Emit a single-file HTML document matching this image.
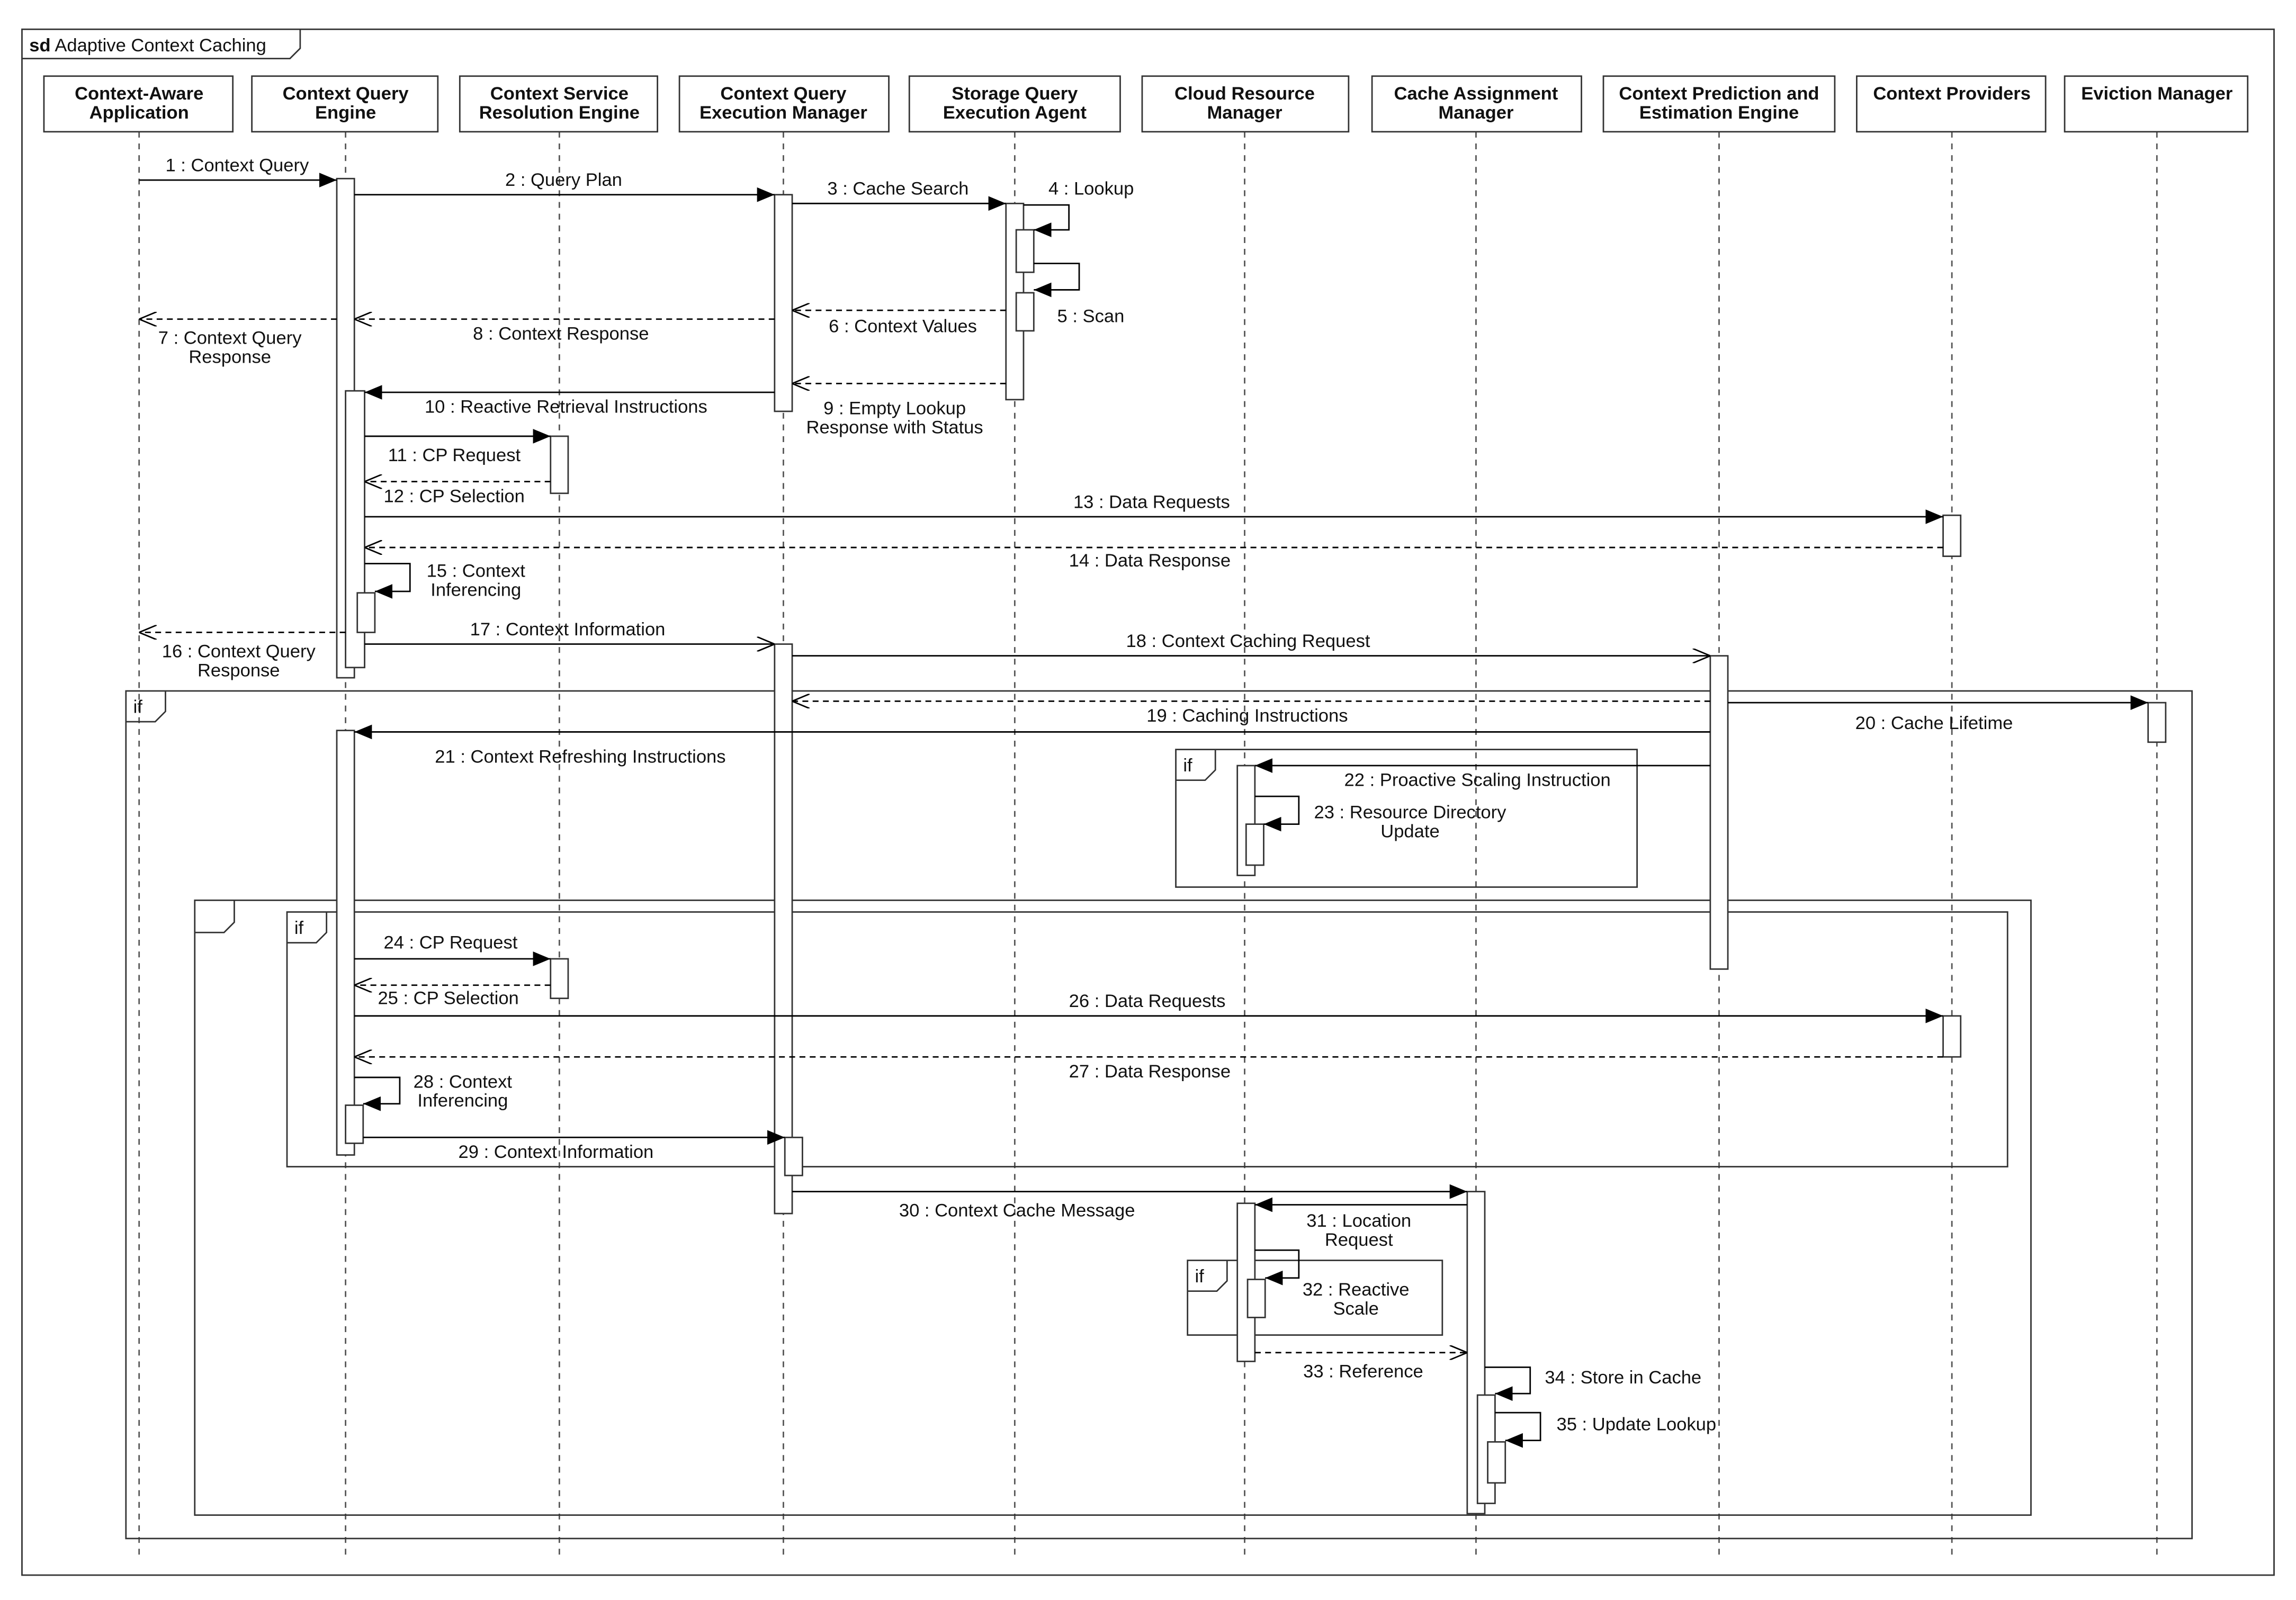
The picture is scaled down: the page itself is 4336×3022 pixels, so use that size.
<!DOCTYPE html>
<html><head><meta charset="utf-8"><style>
html,body{margin:0;padding:0;background:#fff}
svg{display:block}
text{font-family:"Liberation Sans",Arial,sans-serif;font-size:12.5px;fill:#111}
.h{font-weight:bold;text-anchor:middle}
.m{text-anchor:middle}
</style></head><body>
<svg width="4336" height="3022" viewBox="0 0 1568 1093" preserveAspectRatio="none" xmlns="http://www.w3.org/2000/svg">
<defs>
<marker id="f" markerUnits="userSpaceOnUse" markerWidth="12" markerHeight="10" refX="12" refY="5" orient="auto"><path d="M0,0 L12,5 L0,10 z" fill="#000"/></marker>
<marker id="o" markerUnits="userSpaceOnUse" markerWidth="12" markerHeight="10" refX="12" refY="5" orient="auto"><path d="M0,0 L12,5 L0,10" fill="none" stroke="#000" stroke-width="1"/></marker>
</defs>
<rect width="1568" height="1093" fill="#fff"/>
<g fill="none" stroke="#333" stroke-width="1">
<rect x="15" y="20" width="1538" height="1056"/>
<path d="M15,40 H198 L205,33 V20"/>
</g>
<text x="20" y="35"><tspan font-weight="bold">sd</tspan> Adaptive Context Caching</text>

<!-- lifelines -->
<g stroke="#555" stroke-dasharray="4,4" stroke-width="1">
<line x1="95" y1="90" x2="95" y2="1066"/>
<line x1="236" y1="90" x2="236" y2="1066"/>
<line x1="382" y1="90" x2="382" y2="1066"/>
<line x1="535" y1="90" x2="535" y2="1066"/>
<line x1="693" y1="90" x2="693" y2="1066"/>
<line x1="850" y1="90" x2="850" y2="1066"/>
<line x1="1008" y1="90" x2="1008" y2="1066"/>
<line x1="1174" y1="90" x2="1174" y2="1066"/>
<line x1="1333" y1="90" x2="1333" y2="1066"/>
<line x1="1473" y1="90" x2="1473" y2="1066"/>
</g>

<!-- headers -->
<g fill="#fff" stroke="#333" stroke-width="1">
<rect x="30" y="52" width="129" height="38"/>
<rect x="172" y="52" width="127" height="38"/>
<rect x="314" y="52" width="135" height="38"/>
<rect x="464" y="52" width="143" height="38"/>
<rect x="621" y="52" width="144" height="38"/>
<rect x="780" y="52" width="141" height="38"/>
<rect x="937" y="52" width="143" height="38"/>
<rect x="1095" y="52" width="158" height="38"/>
<rect x="1268" y="52" width="129" height="38"/>
<rect x="1410" y="52" width="125" height="38"/>
</g>
<text class="h" x="95" y="68">Context-Aware</text><text class="h" x="95" y="81">Application</text>
<text class="h" x="236" y="68">Context Query</text><text class="h" x="236" y="81">Engine</text>
<text class="h" x="382" y="68">Context Service</text><text class="h" x="382" y="81">Resolution Engine</text>
<text class="h" x="535" y="68">Context Query</text><text class="h" x="535" y="81">Execution Manager</text>
<text class="h" x="693" y="68">Storage Query</text><text class="h" x="693" y="81">Execution Agent</text>
<text class="h" x="850" y="68">Cloud Resource</text><text class="h" x="850" y="81">Manager</text>
<text class="h" x="1008" y="68">Cache Assignment</text><text class="h" x="1008" y="81">Manager</text>
<text class="h" x="1174" y="68">Context Prediction and</text><text class="h" x="1174" y="81">Estimation Engine</text>
<text class="h" x="1333" y="68">Context Providers</text>
<text class="h" x="1473" y="68">Eviction Manager</text>

<!-- frames -->
<g fill="none" stroke="#333" stroke-width="1">
<rect x="86" y="472" width="1411" height="579"/><path d="M86,493 H106 L113,486 V472"/>
<rect x="133" y="615" width="1254" height="420"/><path d="M133,637 H153 L160,630 V615"/>
<rect x="196" y="623" width="1175" height="174"/><path d="M196,644 H216 L223,637 V623"/>
<rect x="803" y="512" width="315" height="94"/><path d="M803,533 H823 L830,526 V512"/>
<rect x="811" y="861" width="174" height="51"/><path d="M811,882 H831 L838,875 V861"/>
</g>
<text x="91" y="487">if</text><text x="201" y="638">if</text><text x="808" y="527">if</text><text x="816" y="876">if</text>

<!-- activations -->
<g fill="#fff" stroke="#333" stroke-width="1">
<rect x="230" y="122" width="12" height="341"/>
<rect x="236" y="267" width="13" height="189"/>
<rect x="244" y="405" width="12" height="27"/>
<rect x="529" y="133" width="12" height="148"/>
<rect x="687" y="139" width="12" height="134"/>
<rect x="694" y="157" width="12" height="29"/>
<rect x="694" y="200" width="12" height="26"/>
<rect x="376" y="298" width="12" height="39"/>
<rect x="1327" y="352" width="12" height="28"/>
<rect x="529" y="440" width="12" height="389"/>
<rect x="536" y="777" width="12" height="26"/>
<rect x="1168" y="448" width="12" height="214"/>
<rect x="1467" y="480" width="12" height="27"/>
<rect x="230" y="499" width="12" height="290"/>
<rect x="236" y="755" width="12" height="26"/>
<rect x="845" y="523" width="12" height="75"/>
<rect x="851" y="563" width="12" height="28"/>
<rect x="376" y="655" width="12" height="27"/>
<rect x="1327" y="694" width="12" height="28"/>
<rect x="1002" y="814" width="12" height="220"/>
<rect x="1009" y="953" width="12" height="74"/>
<rect x="1016" y="985" width="12" height="28"/>
<rect x="845" y="822" width="12" height="108"/>
<rect x="852" y="874" width="12" height="26"/>
</g>

<!-- messages -->
<g stroke="#000" stroke-width="1" fill="none">
<line x1="95" y1="123" x2="230" y2="123" marker-end="url(#f)"/>
<line x1="242" y1="133" x2="529" y2="133" marker-end="url(#f)"/>
<line x1="541" y1="139" x2="687" y2="139" marker-end="url(#f)"/>
<path d="M699,140 H730 V157 H706" marker-end="url(#f)"/>
<path d="M706,180 H737 V198 H706" marker-end="url(#f)"/>
<g stroke-dasharray="4,3">
<line x1="687" y1="212" x2="541" y2="212" marker-end="url(#o)"/>
<line x1="230" y1="218" x2="95" y2="218" marker-end="url(#o)"/>
<line x1="529" y1="218" x2="242" y2="218" marker-end="url(#o)"/>
<line x1="687" y1="262" x2="541" y2="262" marker-end="url(#o)"/>
<line x1="376" y1="329" x2="249" y2="329" marker-end="url(#o)"/>
<line x1="1327" y1="374" x2="249" y2="374" marker-end="url(#o)"/>
<line x1="236" y1="432" x2="95" y2="432" marker-end="url(#o)"/>
<line x1="1168" y1="479" x2="541" y2="479" marker-end="url(#o)"/>
<line x1="376" y1="673" x2="242" y2="673" marker-end="url(#o)"/>
<line x1="1327" y1="722" x2="242" y2="722" marker-end="url(#o)"/>
<line x1="857" y1="924" x2="1002" y2="924" marker-end="url(#o)"/>
</g>
<line x1="529" y1="268" x2="249" y2="268" marker-end="url(#f)"/>
<line x1="249" y1="298" x2="376" y2="298" marker-end="url(#f)"/>
<line x1="249" y1="353" x2="1327" y2="353" marker-end="url(#f)"/>
<path d="M249,385 H280 V404 H256" marker-end="url(#f)"/>
<line x1="249" y1="440" x2="529" y2="440" marker-end="url(#o)"/>
<line x1="541" y1="448" x2="1168" y2="448" marker-end="url(#o)"/>
<line x1="1180" y1="480" x2="1467" y2="480" marker-end="url(#f)"/>
<line x1="1168" y1="500" x2="242" y2="500" marker-end="url(#f)"/>
<line x1="1168" y1="523" x2="857" y2="523" marker-end="url(#f)"/>
<path d="M857,544 H887 V563 H863" marker-end="url(#f)"/>
<line x1="242" y1="655" x2="376" y2="655" marker-end="url(#f)"/>
<line x1="242" y1="694" x2="1327" y2="694" marker-end="url(#f)"/>
<path d="M242,736 H273 V754 H248" marker-end="url(#f)"/>
<line x1="248" y1="777" x2="536" y2="777" marker-end="url(#f)"/>
<line x1="541" y1="814" x2="1002" y2="814" marker-end="url(#f)"/>
<line x1="1002" y1="823" x2="857" y2="823" marker-end="url(#f)"/>
<path d="M857,854 H887 V873 H864" marker-end="url(#f)"/>
<path d="M1014,934 H1045 V952 H1021" marker-end="url(#f)"/>
<path d="M1021,965 H1052 V984 H1028" marker-end="url(#f)"/>
</g>

<!-- labels -->
<text x="113" y="117">1 : Context Query</text>
<text x="345" y="127">2 : Query Plan</text>
<text x="565" y="133">3 : Cache Search</text>
<text x="716" y="133">4 : Lookup</text>
<text x="722" y="220">5 : Scan</text>
<text x="566" y="227">6 : Context Values</text>
<text class="m" x="157" y="235">7 : Context Query</text><text class="m" x="157" y="248">Response</text>
<text x="323" y="232">8 : Context Response</text>
<text class="m" x="611" y="283">9 : Empty Lookup</text><text class="m" x="611" y="296">Response with Status</text>
<text x="290" y="282">10 : Reactive Retrieval Instructions</text>
<text x="265" y="315">11 : CP Request</text>
<text x="262" y="343">12 : CP Selection</text>
<text x="733" y="347">13 : Data Requests</text>
<text x="730" y="387">14 : Data Response</text>
<text class="m" x="325" y="394">15 : Context</text><text class="m" x="325" y="407">Inferencing</text>
<text class="m" x="163" y="449">16 : Context Query</text><text class="m" x="163" y="462">Response</text>
<text x="321" y="434">17 : Context Information</text>
<text x="769" y="442">18 : Context Caching Request</text>
<text x="783" y="493">19 : Caching Instructions</text>
<text x="1267" y="498">20 : Cache Lifetime</text>
<text x="297" y="521">21 : Context Refreshing Instructions</text>
<text x="918" y="537">22 : Proactive Scaling Instruction</text>
<text class="m" x="963" y="559">23 : Resource Directory</text><text class="m" x="963" y="572">Update</text>
<text x="262" y="648">24 : CP Request</text>
<text x="258" y="686">25 : CP Selection</text>
<text x="730" y="688">26 : Data Requests</text>
<text x="730" y="736">27 : Data Response</text>
<text class="m" x="316" y="743">28 : Context</text><text class="m" x="316" y="756">Inferencing</text>
<text x="313" y="791">29 : Context Information</text>
<text x="614" y="831">30 : Context Cache Message</text>
<text class="m" x="928" y="838">31 : Location</text><text class="m" x="928" y="851">Request</text>
<text class="m" x="926" y="885">32 : Reactive</text><text class="m" x="926" y="898">Scale</text>
<text x="890" y="941">33 : Reference</text>
<text x="1055" y="945">34 : Store in Cache</text>
<text x="1063" y="977">35 : Update Lookup</text>
</svg>
</body></html>
